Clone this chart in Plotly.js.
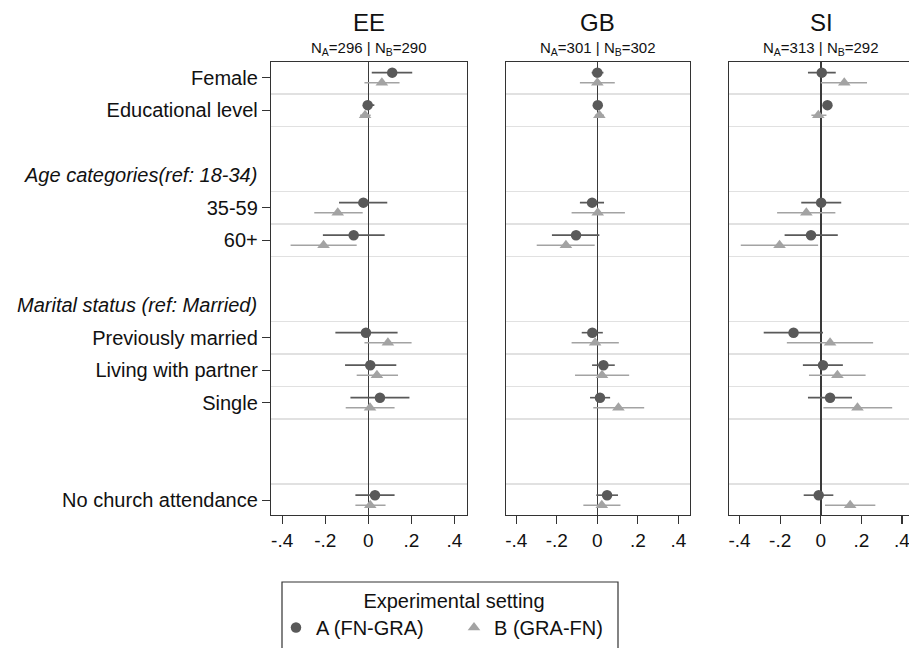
<!DOCTYPE html>
<html>
<head>
<meta charset="utf-8">
<script src="https://cdn.plot.ly/plotly-3.0.1.min.js"></script>
<style>
html, body { margin: 0; padding: 0; overflow: hidden; background: #fff; }
#chart { width: 916px; height: 648px; }
</style>
</head>
<body>
<div id="chart"></div>
<script>
// ---------------- data ----------------
const countries = ["EE", "GB", "SI"];
const nA = [296, 301, 313];
const nB = [290, 302, 292];

const rowLabels = ["Female", "Educational level", "35-59", "60+",
  "Previously married", "Living with partner", "Single", "No church attendance"];
const headerLabels = ["Age categories(ref: 18-34)", "Marital status (ref: Married)"];
const tickValsX = [-0.4, -0.2, 0, 0.2, 0.4];
const tickTextX = ["-.4", "-.2", "0", ".2", ".4"];
const seriesNames = ["A (FN-GRA)", "B (GRA-FN)"];
const legendTitle = "Experimental setting";

// EE
const eeA   = [0.111, -0.003, -0.023, -0.068, -0.011, 0.009, 0.054, 0.031];
const eeAlo = [0.016, -0.023, -0.136, -0.211, -0.153, -0.108, -0.083, -0.060];
const eeAhi = [0.204, 0.028, 0.088, 0.076, 0.136, 0.130, 0.191, 0.122];
const eeB   = [0.063, -0.015, -0.142, -0.208, 0.091, 0.040, 0.008, 0.009];
const eeBlo = [-0.018, -0.038, -0.251, -0.361, -0.018, -0.054, -0.105, -0.060];
const eeBhi = [0.145, 0.011, -0.026, -0.054, 0.201, 0.138, 0.122, 0.080];
// GB
const gbA   = [0.000, 0.002, -0.026, -0.105, -0.025, 0.030, 0.013, 0.048];
const gbAlo = [-0.028, -0.008, -0.086, -0.224, -0.077, -0.026, -0.036, -0.005];
const gbAhi = [0.030, 0.012, 0.033, 0.010, 0.027, 0.086, 0.063, 0.102];
const gbB   = [0.000, 0.010, 0.002, -0.155, -0.011, 0.023, 0.104, 0.022];
const gbBlo = [-0.086, -0.012, -0.127, -0.299, -0.127, -0.110, -0.020, -0.069];
const gbBhi = [0.086, 0.033, 0.136, -0.013, 0.106, 0.157, 0.231, 0.114];
// SI
const siA   = [0.005, 0.033, 0.002, -0.048, -0.134, 0.011, 0.046, -0.010];
const siAlo = [-0.063, 0.023, -0.096, -0.178, -0.281, -0.088, -0.063, -0.084];
const siAhi = [0.074, 0.043, 0.101, 0.084, 0.011, 0.109, 0.154, 0.062];
const siB   = [0.116, -0.012, -0.071, -0.203, 0.046, 0.082, 0.181, 0.145];
const siBlo = [0.000, -0.046, -0.215, -0.394, -0.167, -0.058, 0.013, 0.021];
const siBhi = [0.228, 0.028, 0.072, -0.013, 0.258, 0.221, 0.352, 0.269];

// ---------------- layout constants ----------------
const W = 916, H = 648;
const rowPos = [0, 1, 4, 5, 8, 9, 10, 13];   // slot of each labelled row
const headerPos = [3, 7];
const gridPos = [0.5, 1.5, 3.5, 4.5, 5.5, 7.5, 8.5, 9.5, 10.5, 12.5];
const off = 0.155;
const panelsPx = [[271, 466.7], [505.7, 690], [729, 913.5]];
const yDomain = [1 - 515 / H, 1 - 62 / H];
const yRange = [13.455, -0.483];
const xRange = [-0.452, 0.457];
const colA = "#595959", colB = "#a3a3a3";
const FONT = "Arial, 'Liberation Sans', Helvetica, sans-serif";

const panelData = [
  [eeA, eeAlo, eeAhi, eeB, eeBlo, eeBhi],
  [gbA, gbAlo, gbAhi, gbB, gbBlo, gbBhi],
  [siA, siAlo, siAhi, siB, siBlo, siBhi]
];

const traces = [];
panelData.forEach((d, i) => {
  const xa = i === 0 ? "x" : "x" + (i + 1);
  const ya = i === 0 ? "y" : "y" + (i + 1);
  const [a, alo, ahi, b, blo, bhi] = d;
  traces.push({
    type: "scatter", mode: "markers", name: seriesNames[0], legendgroup: "A",
    showlegend: i === 0, xaxis: xa, yaxis: ya,
    x: a, y: rowPos.map(r => r - off),
    marker: { symbol: "circle", size: 10.5, color: colA },
    error_x: { type: "data", symmetric: false,
      array: a.map((v, k) => ahi[k] - v), arrayminus: a.map((v, k) => v - alo[k]),
      color: colA, thickness: 1.6, width: 0 },
    hoverinfo: "skip"
  });
  traces.push({
    type: "scatter", mode: "markers", name: seriesNames[1], legendgroup: "B",
    showlegend: i === 0, xaxis: xa, yaxis: ya,
    x: b, y: rowPos.map(r => r + off),
    marker: { symbol: "triangle-up", size: 11, color: colB },
    error_x: { type: "data", symmetric: false,
      array: b.map((v, k) => bhi[k] - v), arrayminus: b.map((v, k) => v - blo[k]),
      color: colB, thickness: 1.6, width: 0 },
    hoverinfo: "skip"
  });
});

const layout = {
  width: W, height: H,
  margin: { l: 0, r: 0, t: 0, b: 0 },
  paper_bgcolor: "#fff", plot_bgcolor: "#fff",
  font: { family: FONT, color: "#111", size: 20 },
  showlegend: true,
  legend: {
    orientation: "h",
    x: 276 / W, xanchor: "left",
    y: 1 - 582 / H, yanchor: "top",
    entrywidth: 133, entrywidthmode: "pixels",
    borderwidth: 0, bgcolor: "rgba(0,0,0,0)",
    font: { family: FONT, size: 20, color: "#111" },
    title: { text: legendTitle, side: "top center", font: { family: FONT, size: 20, color: "#111" } }
  },
  annotations: [],
  shapes: [{
    type: "rect", xref: "paper", yref: "paper",
    x0: 282 / W, x1: 618 / W, y0: -0.05, y1: 1 - 582 / H,
    line: { color: "#333", width: 1.2 }, fillcolor: "rgba(0,0,0,0)", layer: "below"
  }]
};

panelsPx.forEach((p, i) => {
  const sfx = i === 0 ? "" : String(i + 1);
  layout["xaxis" + sfx] = {
    domain: [p[0] / W, p[1] / W], anchor: "y" + sfx, range: xRange,
    tickmode: "array", tickvals: tickValsX, ticktext: tickTextX,
    ticks: "outside", ticklen: 8, tickwidth: 1.2, tickcolor: "#333",
    tickfont: { family: FONT, size: 19, color: "#111" },
    showgrid: false, zeroline: true, zerolinecolor: "#3a3a3a", zerolinewidth: 1.6,
    showline: true, mirror: true, linecolor: "#333", linewidth: 1.2
  };
  layout["yaxis" + sfx] = {
    domain: yDomain, anchor: "x" + sfx, range: yRange,
    tickmode: "array", tickvals: rowPos, ticktext: rowLabels,
    ticks: i === 0 ? "outside" : "", ticklen: 8, tickwidth: 1.2, tickcolor: "#333",
    showticklabels: i === 0,
    tickfont: { family: FONT, size: 20, color: "#111" },
    showgrid: false, zeroline: false,
    minor: { tickmode: "array", tickvals: gridPos, showgrid: true, gridcolor: "#e1e1e1", gridwidth: 1.5, ticks: "" },
    showline: true, mirror: true, linecolor: "#333", linewidth: 1.2
  };
  const cx = (p[0] + p[1]) / 2 / W;
  layout.annotations.push({
    xref: "paper", yref: "paper", x: cx, y: 1 - 22 / H, xanchor: "center", yanchor: "middle",
    text: countries[i], showarrow: false, font: { family: FONT, size: 24, color: "#111" }
  });
  layout.annotations.push({
    xref: "paper", yref: "paper", x: cx, y: 1 - 48 / H, xanchor: "center", yanchor: "middle",
    text: "N<sub>A</sub>=" + nA[i] + " | N<sub>B</sub>=" + nB[i], showarrow: false,
    font: { family: FONT, size: 15, color: "#111" }
  });
});

headerLabels.forEach((h, j) => {
  layout.annotations.push({
    xref: "paper", yref: "y", x: 259 / W, y: headerPos[j], xanchor: "right", yanchor: "middle",
    text: "<i>" + h + "</i>", showarrow: false, font: { family: FONT, size: 20, color: "#111" }
  });
});

Plotly.newPlot("chart", traces, layout, { displayModeBar: false, staticPlot: true });
</script>
</body>
</html>
